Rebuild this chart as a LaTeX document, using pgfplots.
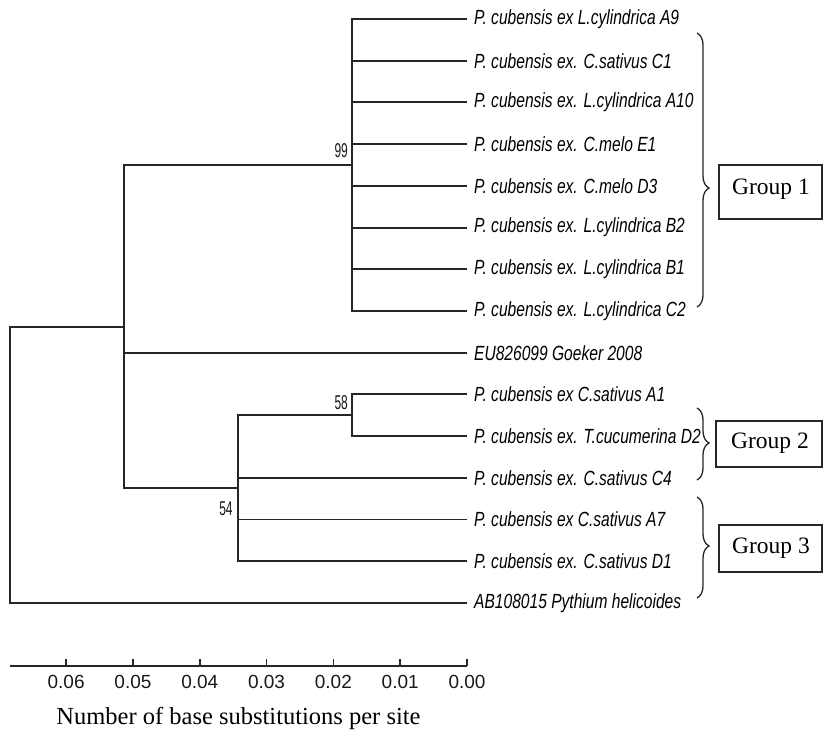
\documentclass[border=0pt]{standalone}
\usepackage{fontspec}
\setmainfont{Liberation Serif}
\newfontfamily\leaffont[FakeStretch=0.76]{Liberation Sans}
\newfontfamily\bootfont[FakeStretch=0.6]{Liberation Sans}
\newfontfamily\tickfont{Liberation Sans}
\usepackage{pgfplots}
\pgfplotsset{compat=1.18}
\usetikzlibrary{decorations.pathreplacing}
\begin{document}
\begin{tikzpicture}
\useasboundingbox (0pt,0pt) rectangle (824pt,-731pt);
\begin{axis}[
  at={(10pt,0pt)}, anchor=north west,
  scale only axis, width=457pt, height=666pt,
  x dir=reverse, y dir=reverse,
  xmin=0, xmax=0.0684, ymin=-0.4555, ymax=15.512,
  axis x line=bottom, axis y line=none,
  x axis line style={-, line width=1.9pt, black!85},
  xtick={0,0.01,0.02,0.03,0.04,0.05,0.06},
  scaled x ticks=false,
  tick align=inside, major tick length=7pt,
  tick style={line width=1.6pt, black!85},
  xticklabel style={anchor=center, yshift=-16pt, font=\tickfont\fontsize{19}{20}\selectfont, text=black!90},
  /pgf/number format/.cd, fixed, fixed zerofill, precision=2, assume math mode=true,
  /pgfplots/.cd,
  xlabel={Number of base substitutions per site},
  xlabel style={at={(axis description cs:0.5,0)}, anchor=center, yshift=-52pt, font=\fontsize{24.5}{28}\selectfont},
  clip=false,
  every axis plot post/.append style={black!85, line width=1.9pt, mark=none, solid},
]
% root
\addplot coordinates {(0.0513,7.375) (0.0684,7.375) (0.0684,14) (0,14)};
% node A
\addplot coordinates {(0.0172,3.5) (0.0513,3.5) (0.0513,11.25) (0.0343,11.25)};
\addplot coordinates {(0.0513,8) (0,8)};
% clade 99
\addplot coordinates {(0,0) (0.0172,0) (0.0172,7) (0,7)};
\addplot coordinates {(0.0172,1) (0,1)};
\addplot coordinates {(0.0172,2) (0,2)};
\addplot coordinates {(0.0172,3) (0,3)};
\addplot coordinates {(0.0172,4) (0,4)};
\addplot coordinates {(0.0172,5) (0,5)};
\addplot coordinates {(0.0172,6) (0,6)};
% node 54
\addplot coordinates {(0.0172,9.5) (0.0343,9.5) (0.0343,13) (0,13)};
\addplot coordinates {(0.0343,11) (0,11)};
\addplot coordinates {(0.0343,12) (0,12)};
% node 58
\addplot coordinates {(0,9) (0.0172,9) (0.0172,10) (0,10)};

% bootstrap values
\begin{scope}[every node/.style={font=\bootfont\fontsize{20}{22}\selectfont, text=black!90, inner sep=0pt}]
\node[anchor=east, xshift=-4pt, yshift=14pt] at (axis cs:0.0172,3.5) {99};
\node[anchor=east, xshift=-4pt, yshift=13pt] at (axis cs:0.0172,9.5) {58};
\node[anchor=east, xshift=-5pt, yshift=-20pt] at (axis cs:0.0343,11.25) {54};
\end{scope}

% leaf labels
\begin{scope}[every node/.style={anchor=west, xshift=7pt, inner sep=0pt, font=\leaffont\itshape\fontsize{20.5}{22}\selectfont, text=black}]
\node at (axis cs:0,0) {P. cubensis ex L.cylindrica A9};
\node at (axis cs:0,1) {P. cubensis ex. C.sativus C1};
\node at (axis cs:0,2) {P. cubensis ex. L.cylindrica A10};
\node at (axis cs:0,3) {P. cubensis ex. C.melo E1};
\node at (axis cs:0,4) {P. cubensis ex. C.melo D3};
\node at (axis cs:0,5) {P. cubensis ex. L.cylindrica B2};
\node at (axis cs:0,6) {P. cubensis ex. L.cylindrica B1};
\node at (axis cs:0,7) {P. cubensis ex. L.cylindrica C2};
\node at (axis cs:0,8) {EU826099 Goeker 2008};
\node at (axis cs:0,9) {P. cubensis ex C.sativus A1};
\node at (axis cs:0,10) {P. cubensis ex. T.cucumerina D2};
\node at (axis cs:0,11) {P. cubensis ex. C.sativus C4};
\node at (axis cs:0,12) {P. cubensis ex C.sativus A7};
\node at (axis cs:0,13) {P. cubensis ex. C.sativus D1};
\node at (axis cs:0,14) {AB108015 Pythium helicoides};
\end{scope}
\end{axis}

% group braces and boxes
\draw[line width=1.3pt, black!85, decorate, decoration={brace, amplitude=12pt, aspect=0.566}] (697pt,-33pt) -- (697pt,-307pt);
\draw[line width=1.3pt, black!85, decorate, decoration={brace, amplitude=12pt, aspect=0.486}] (697pt,-408pt) -- (697pt,-480pt);
\draw[line width=1.3pt, black!85, decorate, decoration={brace, amplitude=12pt, aspect=0.485}] (697pt,-497pt) -- (697pt,-598pt);
\draw[line width=1.3pt, black!85] (719pt,-165pt) rectangle (822pt,-219pt);
\draw[line width=1.3pt, black!85] (716pt,-421pt) rectangle (822pt,-467pt);
\draw[line width=1.3pt, black!85] (719pt,-525pt) rectangle (822pt,-572pt);
\node[font=\fontsize{23.5}{26}\selectfont] at (771pt,-189pt) {Group 1};
\node[font=\fontsize{23.5}{26}\selectfont] at (770pt,-443pt) {Group 2};
\node[font=\fontsize{23.5}{26}\selectfont] at (771pt,-548pt) {Group 3};
\end{tikzpicture}
\end{document}
